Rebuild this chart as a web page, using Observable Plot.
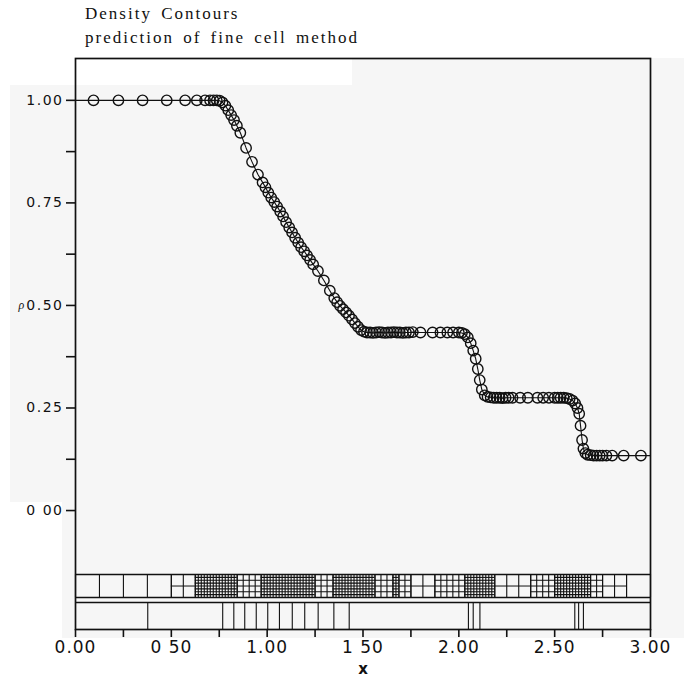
<!DOCTYPE html>
<html><head><meta charset="utf-8">
<script src="https://cdn.jsdelivr.net/npm/d3@7"></script>
<script src="https://cdn.jsdelivr.net/npm/@observablehq/plot@0.6"></script>
<style>
body{margin:0;background:#fff;width:684px;height:688px;overflow:hidden;position:relative}
.bg{position:absolute;background:#f6f6f6}
#titles{position:relative;height:50px}
.t{position:absolute;left:85px;font-family:"Liberation Serif",serif;font-size:17px;letter-spacing:2px;word-spacing:3px;color:#111;white-space:nowrap;line-height:18px}
#chart{position:relative}
g[aria-label="y-axis tick label"] text{letter-spacing:1.5px}
g[aria-label="x-axis tick label"] text{letter-spacing:1px}
</style></head>
<body>
<div class="bg" style="left:10px;top:85px;width:674px;height:417px"></div>
<div class="bg" style="left:62px;top:502px;width:622px;height:136px"></div>
<div class="bg" style="left:352px;top:58px;width:332px;height:27px"></div>
<div id="titles">
  <div class="t" style="top:5px">Density Contours</div>
  <div class="t" style="top:29px">prediction of fine cell method</div>
</div>
<div id="chart"></div>
<script>
// ---- data ----
const circleX = [
  0.094, 0.224, 0.350, 0.476, 0.572, 0.633, 0.676, 0.702, 0.720, 0.737,
  0.752, 0.767, 0.782, 0.797, 0.812, 0.827, 0.842, 0.860, 0.890, 0.921, 0.952,
  0.976, 0.991, 1.006, 1.021, 1.037, 1.052, 1.068, 1.083, 1.099, 1.115, 1.130,
  1.146, 1.162, 1.177, 1.193, 1.208, 1.224, 1.240, 1.265, 1.296, 1.327, 1.350,
  1.365, 1.380, 1.396, 1.412, 1.427, 1.443, 1.458, 1.474, 1.490, 1.505, 1.521,
  1.537, 1.552, 1.568, 1.584, 1.599, 1.615, 1.630, 1.646, 1.661, 1.677, 1.692,
  1.708, 1.724, 1.740, 1.760, 1.800, 1.863, 1.904, 1.940, 1.970, 2.000,
  2.016, 2.031, 2.047, 2.062, 2.075, 2.088, 2.099, 2.109, 2.120, 2.135, 2.150,
  2.166, 2.182, 2.197, 2.213, 2.228, 2.244, 2.260, 2.280, 2.320, 2.360, 2.410,
  2.440, 2.470, 2.500, 2.516, 2.531, 2.547, 2.563, 2.578, 2.594, 2.607, 2.619,
  2.628, 2.635, 2.643, 2.650, 2.660, 2.672, 2.688, 2.703, 2.719, 2.735, 2.750,
  2.770, 2.800, 2.860, 2.950
];
const circleRho = [
  1.000, 1.000, 1.000, 1.000, 1.000, 1.000, 1.000, 1.000, 1.000, 1.000,
  0.999, 0.995, 0.987, 0.976, 0.964, 0.952, 0.938, 0.921, 0.884, 0.850, 0.819,
  0.800, 0.788, 0.775, 0.763, 0.752, 0.741, 0.729, 0.717, 0.703, 0.690, 0.678,
  0.665, 0.653, 0.642, 0.632, 0.622, 0.611, 0.600, 0.584, 0.561, 0.536, 0.518,
  0.508, 0.499, 0.491, 0.483, 0.475, 0.466, 0.457, 0.448, 0.440, 0.436, 0.434,
  0.434, 0.433, 0.434, 0.435, 0.434, 0.433, 0.434, 0.434, 0.435, 0.434, 0.434,
  0.433, 0.434, 0.434, 0.435, 0.434, 0.434, 0.434, 0.434, 0.434, 0.434,
  0.433, 0.430, 0.422, 0.408, 0.390, 0.370, 0.345, 0.318, 0.295, 0.281, 0.277,
  0.276, 0.275, 0.275, 0.275, 0.274, 0.275, 0.275, 0.275, 0.275, 0.275, 0.275,
  0.275, 0.275, 0.275, 0.275, 0.275, 0.275, 0.274, 0.272, 0.268, 0.261, 0.250,
  0.236, 0.207, 0.172, 0.151, 0.140, 0.136, 0.135, 0.134, 0.134, 0.134, 0.134,
  0.134, 0.134, 0.134, 0.134
];
// ends of the connecting line (at the left and right walls)
const edgeX = [0.0, 3.0];
const edgeRho = [1.0, 0.134];

// upper mesh strip: refinement regions (start, end, level)
const meshStart = [0, 0.5, 0.625, 0.84375, 0.96875, 1.25, 1.34375, 1.5625, 1.65625, 1.6875, 1.75, 1.875, 2.03125, 2.1875, 2.375, 2.5, 2.6875, 2.75, 2.875];
const meshEnd   = [0.5, 0.625, 0.84375, 0.96875, 1.25, 1.34375, 1.5625, 1.65625, 1.6875, 1.75, 1.875, 2.03125, 2.1875, 2.375, 2.5, 2.6875, 2.75, 2.875, 3.0];
const meshLevel = [0, 1, 3, 2, 3, 2, 3, 2, 3, 2, 1, 2, 3, 1, 2, 3, 2, 1, 0];
// lower strip: cell boundaries
const lowerLines = [0.377, 0.768, 0.826, 0.883, 0.943, 1.003, 1.064, 1.131, 1.196, 1.266, 1.348, 1.428, 2.05, 2.075, 2.11, 2.605, 2.625, 2.65];

// axis ticks
const yTicks = [0, 0.25, 0.5, 0.75, 1.0];
const yTickLabels = ["0 00", "0.25", "0.50", "0.75", "1.00"];
const yMinor = [0.125, 0.375, 0.625, 0.875];
const xTicks = [0, 0.5, 1.0, 1.5, 2.0, 2.5, 3.0];
const xTickLabels = ["0.00", "0 50", "1.00", "1 50", "2.00", "2.50", "3.00"];
const xMinor = [0.25, 0.75, 1.25, 1.75, 2.25, 2.75];

// ---- build tables ----
const pts = circleX.map((x, i) => ({x, y: circleRho[i]}));
const linePts = [{x: edgeX[0], y: edgeRho[0]}, ...pts, {x: edgeX[1], y: edgeRho[1]}];

const UP_TOP = -0.156, UP_BOT = -0.212, LOW_TOP = -0.224, Y_MIN = -0.29;
const vLines = [], hLines = [];
meshStart.forEach((s, i) => {
  const e = meshEnd[i], lv = meshLevel[i];
  const w = 0.125 / Math.pow(2, lv);
  const n = Math.round((e - s) / w);
  for (let k = 0; k <= n; k++) vLines.push({x: s + k * w, lv});
  const m = Math.pow(2, lv);
  for (let j = 1; j < m; j++) hLines.push({y: UP_TOP + (UP_BOT - UP_TOP) * j / m, x1: s, x2: e, lv});
});

const yMap = new Map(yTicks.map((d, i) => [d, yTickLabels[i]]));
const xMap = new Map(xTicks.map((d, i) => [d, xTickLabels[i]]));
const ink = "#111";

const chart = Plot.plot({
  width: 684, height: 638,
  marginLeft: 75, marginRight: 34, marginTop: 8, marginBottom: 59,
  style: {background: "transparent", overflow: "visible", fontFamily: "'DejaVu Sans', sans-serif", color: ink},
  x: {domain: [0, 3], label: null},
  y: {domain: [Y_MIN, 1.102], label: null},
  marks: [
    Plot.ruleX(vLines, {x: "x", y1: UP_TOP, y2: UP_BOT, stroke: ink, strokeWidth: d => d.lv >= 3 ? 1.1 : 1.1}),
    Plot.ruleY(hLines, {y: "y", x1: "x1", x2: "x2", stroke: ink, strokeWidth: d => d.lv >= 3 ? 1.1 : 1}),
    Plot.ruleY([UP_TOP, UP_BOT, LOW_TOP], {x1: 0, x2: 3, stroke: ink, strokeWidth: 1.6}),
    Plot.ruleX(lowerLines, {y1: LOW_TOP, y2: Y_MIN, stroke: ink, strokeWidth: 1.1}),
    Plot.line(linePts, {x: "x", y: "y", stroke: ink, strokeWidth: 1.1}),
    Plot.dot(pts, {x: "x", y: "y", r: 5.2, stroke: ink, fill: "none", strokeWidth: 1.4}),
    Plot.frame({stroke: ink, strokeWidth: 1.7}),
    Plot.axisY(yTicks, {tickSize: 9, tickPadding: 3, tickFormat: d => yMap.get(d), fontSize: 14, label: null, strokeWidth: 1.6}),
    Plot.axisY(yMinor, {tickSize: 9, tickFormat: () => "", label: null, strokeWidth: 1.6}),
    Plot.axisX(xTicks, {tickSize: 8, tickPadding: 3, tickFormat: d => xMap.get(d), fontSize: 17, label: null, strokeWidth: 1.6}),
    Plot.axisX(xMinor, {tickSize: 8, tickFormat: () => "", label: null, strokeWidth: 1.6}),
    Plot.text(["x"], {frameAnchor: "bottom", dy: 44, text: d => d, fontSize: 15, fontWeight: "bold", fill: ink}),
    Plot.text([0.5], {y: d => d, frameAnchor: "left", dx: -57, text: () => "ρ", fontSize: 12, fontStyle: "italic", fontFamily: "'Liberation Serif', serif", fill: ink})
  ]
});
document.getElementById("chart").appendChild(chart);
</script>
</body></html>
